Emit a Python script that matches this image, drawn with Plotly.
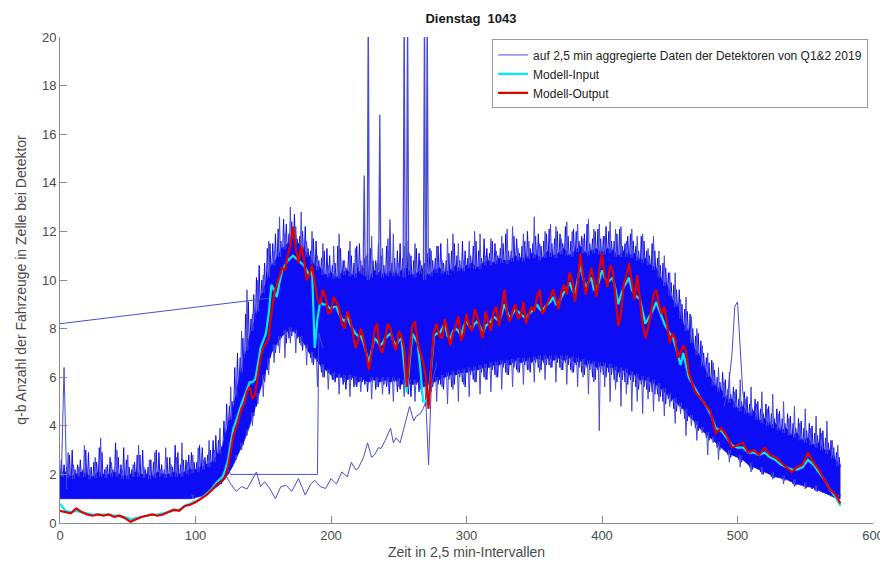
import plotly.graph_objects as go

# ---------------- data ----------------
title_text = "Dienstag  1043"
legend_names = ["auf 2,5 min aggregierte Daten der Detektoren von Q1&2 2019",
                "Modell-Input", "Modell-Output"]
x_ticks = [0, 100, 200, 300, 400, 500, 600]
y_ticks = [0, 2, 4, 6, 8, 10, 12, 14, 16, 18, 20]

# time grids (2.5-min intervals)
t_grid = list(range(0, 580, 4))          # 0 .. 576
t_grid_a = list(range(1, 577, 4))        # 1 .. 573
t_grid_b = list(range(2, 578, 4))        # 2 .. 574
t_grid_c = list(range(3, 579, 4))        # 3 .. 575
t_mid = list(range(122, 474, 4))         # 122 .. 470 (extra model samples)

# dense detector band: upper / lower envelope
band_upper = [2.0, 2.1, 1.9, 2.0, 2.1, 2.0, 1.9, 2.1, 2.0, 2.0,
              2.1, 2.0, 1.9, 2.0, 2.1, 2.0, 2.0, 1.9, 2.1, 2.0,
              2.0, 2.1, 2.0, 2.1, 2.2, 2.2, 2.3, 2.4, 2.5, 2.8,
              3.2, 4.0, 4.8, 5.9, 6.8, 7.7, 8.4, 9.3, 9.9, 10.6,
              10.9, 11.3, 11.5, 11.7, 11.5, 11.2, 11.0, 10.6, 10.5, 10.2,
              10.3, 10.1, 10.3, 10.4, 10.2, 10.3, 10.5, 10.1, 10.4, 10.3,
              10.2, 10.4, 10.2, 10.4, 10.5, 10.2, 10.3, 10.5, 10.2, 10.4,
              10.5, 10.3, 10.4, 10.6, 10.4, 10.6, 10.7, 10.5, 10.7, 10.8,
              10.7, 10.9, 10.8, 10.8, 11.0, 10.9, 10.9, 11.1, 11.0, 10.9,
              11.2, 11.0, 11.1, 11.3, 11.0, 11.2, 11.4, 11.1, 11.2, 11.3,
              11.1, 11.3, 11.2, 11.0, 11.2, 11.0, 11.1, 10.8, 10.9, 10.6,
              10.5, 10.0, 9.8, 9.2, 8.9, 8.2, 7.9, 7.2, 6.9, 6.3,
              6.0, 5.6, 5.5, 5.1, 5.1, 4.7, 4.8, 4.5, 4.6, 4.2,
              4.3, 4.0, 4.1, 3.8, 3.9, 3.6, 3.7, 3.4, 3.5, 3.2,
              3.3, 3.0, 3.0, 2.6, 2.4]
band_lower = [1.0, 1.0, 1.0, 1.0, 1.0, 1.0, 1.0, 1.0, 1.0, 1.0,
              1.0, 1.0, 1.0, 1.0, 1.0, 1.0, 1.0, 1.0, 1.0, 1.0,
              1.0, 1.0, 1.0, 1.0, 1.0, 1.05, 1.1, 1.2, 1.35, 1.5,
              1.7, 2.0, 2.4, 2.9, 3.4, 4.0, 4.8, 5.6, 6.3, 7.0,
              7.4, 7.7, 7.9, 7.9, 7.7, 7.4, 7.0, 6.8, 6.5, 6.3,
              6.1, 6.0, 6.0, 5.9, 6.0, 5.8, 5.9, 5.8, 5.9, 5.8,
              5.9, 5.8, 5.9, 5.7, 5.8, 5.7, 5.8, 5.6, 5.7, 5.8,
              5.9, 6.0, 6.1, 6.1, 6.2, 6.2, 6.3, 6.3, 6.4, 6.4,
              6.5, 6.5, 6.6, 6.5, 6.7, 6.6, 6.7, 6.6, 6.8, 6.7,
              6.8, 6.7, 6.8, 6.7, 6.8, 6.6, 6.7, 6.5, 6.6, 6.4,
              6.5, 6.4, 6.4, 6.2, 6.3, 6.1, 6.1, 5.9, 5.9, 5.8,
              5.7, 5.5, 5.3, 5.1, 4.9, 4.7, 4.4, 4.2, 3.9, 3.7,
              3.5, 3.3, 3.1, 2.9, 2.8, 2.7, 2.6, 2.4, 2.3, 2.2,
              2.1, 2.0, 1.9, 1.85, 1.8, 1.7, 1.6, 1.55, 1.5, 1.45,
              1.35, 1.25, 1.15, 1.05, 1.0]

# peak values of individual detector readings fraying the band edges
edge_upper = [2.6, 2.3, 3.0, 2.4, 2.2, 2.9, 2.5, 3.1, 2.2, 2.7,
              3.3, 2.4, 2.6, 2.2, 2.8, 3.0, 2.3, 2.5, 2.9, 2.2,
              2.7, 3.2, 2.4, 2.6, 2.9, 2.5, 3.1, 2.8, 3.4,
              3.4, 4.2, 4.8, 6.4, 6.8, 8.6, 8.4, 10.1, 10.0, 11.3,
              11.5, 12.1, 12.5, 11.9, 12.7, 11.8, 12.2, 11.2, 11.6, 10.9,
              11.3, 10.6, 11.4, 10.8, 11.2, 10.7, 11.5, 10.9, 11.3, 10.8,
              11.0, 11.4, 10.7, 11.2, 10.9, 11.6, 10.8, 11.1, 10.7, 11.3,
              10.9, 11.5, 10.8, 11.2, 11.0, 11.6, 10.9, 11.4, 11.2, 11.7,
              11.1, 11.5, 11.3, 11.9, 11.2, 11.7, 11.4, 12.0, 11.5, 11.9,
              11.6, 12.1, 11.7, 11.9, 12.2, 11.6, 12.0, 11.8, 12.3, 11.7,
              12.1, 11.8, 12.0, 11.6, 12.1, 11.5, 11.9, 11.4, 11.8, 11.2,
              11.5, 10.9, 10.7, 10.3, 9.8, 9.6, 8.8, 8.6, 7.7, 7.5,
              6.8, 6.7, 6.0, 6.2, 5.5, 5.6, 5.1, 5.4, 4.9, 5.1,
              4.7, 4.9, 4.5, 4.7, 4.3, 4.5, 4.1, 4.3, 3.9, 4.1,
              3.7, 3.9, 3.5, 3.4, 2.9]
edge_lower = [1.0, 1.0, 1.0, 1.0, 1.0, 1.0, 1.0, 1.0, 1.0, 1.0,
              1.0, 1.0, 1.0, 1.0, 1.0, 1.0, 1.0, 1.0, 1.0, 1.0,
              1.0, 1.0, 1.0, 1.0, 1.0,
              1.1, 1.15, 1.3, 1.4, 1.7, 1.8, 2.4, 2.6, 3.3, 3.6,
              4.5, 4.8, 5.9, 6.3, 7.2, 7.3, 7.8, 7.6, 8.0, 7.4,
              7.5, 6.8, 6.9, 6.2, 6.5, 5.9, 6.3, 5.7, 6.0, 5.6,
              6.1, 5.7, 5.9, 5.5, 6.0, 5.6, 5.9, 5.4, 5.8, 5.3,
              5.7, 5.4, 5.6, 5.5, 5.9, 5.7, 6.0, 5.6, 6.1, 5.8,
              6.2, 5.9, 6.3, 6.0, 6.4, 6.1, 6.5, 6.2, 6.5, 6.3,
              6.6, 6.3, 6.7, 6.4, 6.6, 6.5, 6.7, 6.4, 6.6, 6.3,
              6.5, 6.2, 6.4, 6.0, 6.3, 6.1, 6.2, 5.9, 6.0, 5.8,
              5.9, 5.6, 5.7, 5.5, 5.4, 5.3, 5.0, 5.1, 4.7, 4.8,
              4.3, 4.4, 3.9, 4.0, 3.5, 3.6, 3.1, 3.2, 2.8, 2.9,
              2.6, 2.6, 2.3, 2.4, 2.1, 2.2, 1.9, 2.0, 1.8, 1.8,
              1.6, 1.6, 1.5, 1.5, 1.35, 1.3, 1.2, 1.1, 1.0]
edge_upper2 = [2.4, 2.8, 2.2, 2.6, 3.0, 2.3, 2.5, 2.9, 2.4, 2.2,
               2.7, 3.1, 2.3, 2.5, 2.8, 2.2, 2.6, 3.0, 2.4, 2.7,
               2.3, 2.9, 2.6, 2.8, 2.5, 3.2, 2.7, 3.0, 3.6,
               3.0, 4.9, 5.0, 7.0, 7.6, 9.1, 9.4, 10.6, 10.7, 11.5,
               11.9, 11.6, 12.3, 12.4, 11.7, 12.0, 11.3, 11.7, 10.8, 11.2,
               11.0, 10.7, 11.3, 10.5, 11.0, 11.4, 10.6, 11.1, 10.8, 11.5,
               10.6, 11.2, 10.9, 11.5, 10.6, 11.0, 11.3, 10.6, 11.1, 10.8,
               11.4, 10.7, 11.1, 11.5, 10.8, 11.2, 11.0, 11.6, 10.9, 11.3,
               11.6, 11.0, 11.5, 11.2, 11.8, 11.1, 11.6, 11.3, 11.8, 11.4,
               11.9, 11.5, 12.0, 11.5, 11.8, 12.1, 11.6, 11.9, 11.5, 12.0,
               11.7, 12.2, 11.6, 11.9, 11.4, 11.8, 11.6, 11.2, 11.6, 11.0,
               11.2, 10.6, 10.5, 9.9, 9.6, 9.0, 8.7, 8.0, 7.8, 7.0,
               6.6, 6.3, 5.8, 5.9, 5.3, 5.5, 5.0, 5.2, 4.7, 5.0,
               4.5, 4.8, 4.3, 4.6, 4.1, 4.4, 3.9, 4.2, 3.8, 4.0,
               3.6, 3.8, 3.3, 3.1, 2.7]
edge_lower2 = [1.0, 1.0, 1.0, 1.0, 1.0, 1.0, 1.0, 1.0, 1.0, 1.0,
               1.0, 1.0, 1.0, 1.0, 1.0, 1.0, 1.0, 1.0, 1.0, 1.0,
               1.0, 1.0, 1.0, 1.0, 1.0,
               1.1, 1.25, 1.35, 1.5, 1.6, 2.1, 2.3, 3.0, 3.2, 4.2,
               4.4, 5.5, 5.8, 6.8, 7.0, 7.6, 7.4, 7.7, 7.6, 7.1,
               7.2, 6.5, 6.6, 6.0, 6.2, 5.8, 6.1, 5.5, 5.9, 5.6,
               5.8, 5.4, 5.9, 5.6, 5.7, 5.3, 5.8, 5.5, 5.6, 5.2,
               5.7, 5.3, 5.5, 5.6, 5.7, 5.5, 5.9, 5.7, 6.0, 5.6,
               6.1, 5.8, 6.2, 5.9, 6.3, 6.0, 6.4, 6.1, 6.4, 6.2,
               6.5, 6.2, 6.6, 6.3, 6.5, 6.4, 6.6, 6.3, 6.5, 6.2,
               6.4, 6.1, 6.3, 5.9, 6.2, 6.0, 6.1, 5.8, 5.9, 5.7,
               5.8, 5.5, 5.6, 5.4, 5.3, 5.2, 4.9, 5.0, 4.6, 4.7,
               4.2, 4.3, 3.8, 3.9, 3.4, 3.5, 3.0, 3.1, 2.7, 2.8,
               2.5, 2.5, 2.2, 2.3, 2.0, 2.1, 1.85, 1.9, 1.75, 1.7,
               1.55, 1.55, 1.45, 1.4, 1.3, 1.25, 1.15, 1.05, 1.0]

# single detector readings sticking far out of the band
spikes_upper = [2.1, 2.9, 2.4, 2.3, 3.2, 2.2, 2.7, 3.5, 2.3, 2.5,
                3.0, 2.2, 2.8, 2.4, 3.2, 2.3, 2.6, 2.9, 2.2, 3.1,
                2.4, 2.7, 3.3, 2.5, 2.8, 3.1, 2.6, 3.4, 3.0,
                3.9, 3.6, 5.6, 5.8, 7.9, 9.6, 8.6, 10.0, 10.2, 11.6,
                11.2, 12.6, 11.9, 13.0, 12.2, 12.8, 11.6, 12.0, 11.0, 11.5,
                10.6, 11.4, 11.9, 10.8, 11.6, 11.3, 10.8, 11.0, 11.8, 10.7,
                11.3, 11.7, 11.9, 10.7, 11.4, 11.1, 11.5, 10.8, 11.8, 11.2,
                11.4, 10.8, 11.7, 11.9, 11.5, 10.8, 11.6, 12.0, 11.9, 11.0,
                11.7, 11.2, 11.8, 12.1, 12.2, 11.3, 11.9, 11.6, 12.6, 11.5,
                12.0, 12.3, 12.2, 11.7, 12.4, 12.0, 12.3, 11.7, 12.5, 12.1,
                12.3, 11.8, 12.4, 12.1, 12.2, 11.6, 12.1, 11.8, 11.9, 11.3,
                11.8, 11.2, 11.0, 10.3, 10.3, 9.2, 9.3, 8.5, 8.0, 7.3,
                7.0, 6.6, 6.4, 5.8, 6.2, 5.4, 5.9, 5.1, 5.6, 4.9,
                5.4, 4.7, 5.3, 4.5, 5.0, 4.3, 4.8, 4.1, 4.7, 3.9,
                4.4, 3.7, 4.2, 3.4, 3.2]
spikes_lower = [1.0, 1.0, 1.0, 1.0, 1.0, 1.0, 1.0, 1.0, 1.0, 1.0,
                1.0, 1.0, 1.0, 1.0, 1.0, 1.0, 1.0, 1.0, 1.0, 1.0,
                1.0, 1.0, 1.0, 1.0, 1.0,
                1.1, 1.2, 1.3, 1.4, 1.6, 1.9, 2.2, 2.6, 3.0, 3.6,
                4.0, 4.9, 5.2, 6.1, 6.6, 7.0, 6.8, 7.4, 7.0, 7.3,
                6.5, 6.6, 5.6, 6.0, 5.5, 5.9, 5.3, 5.8, 5.2, 5.7,
                5.4, 5.9, 5.1, 5.6, 5.3, 5.8, 5.0, 5.6, 5.2, 5.7,
                5.0, 5.5, 4.8, 5.4, 5.0, 5.6, 4.9, 5.5, 5.0, 5.7,
                5.2, 5.8, 5.3, 5.9, 5.4, 6.0, 5.5, 6.1, 5.6, 6.2,
                5.7, 6.3, 5.8, 6.2, 5.9, 6.4, 5.8, 6.3, 5.7, 6.2,
                5.6, 6.0, 5.3, 5.8, 3.8, 5.6, 5.0, 5.5, 4.8, 5.3,
                4.6, 5.0, 4.5, 5.1, 4.6, 5.0, 4.4, 4.8, 4.1, 4.5,
                3.6, 4.0, 3.4, 3.7, 2.8, 3.3, 2.6, 3.0, 2.5, 2.8,
                2.3, 2.6, 2.1, 2.4, 2.0, 2.2, 1.8, 2.0, 1.6, 1.9,
                1.5, 1.8, 1.4, 1.6, 1.3, 1.5, 1.2, 1.3, 1.0]

# irregular detector series
line_jump_t = [0, 154]
line_jump_v = [8.2, 9.25]
early_spike_t = [1, 3, 5]
early_spike_v = [1.9, 6.4, 1.4]
step_line_t = [122, 126, 190, 191, 194]
step_line_v = [2.4, 2.0, 2.0, 7.8, 7.2]
low_line_t = [122, 126, 130, 134, 138, 142, 145, 148, 151, 155,
              159, 163, 167, 171, 176, 181, 185, 188, 192, 196,
              200, 204, 208, 212, 215, 218, 220, 224, 227, 230,
              232, 235, 237, 240, 244, 246, 248, 251, 254, 256,
              258, 261, 263, 266, 268, 270, 272, 274, 278]
low_line_v = [2.0, 1.6, 1.3, 1.5, 1.4, 1.8, 2.1, 1.5, 1.7, 1.4,
              1.0, 1.5, 1.55, 1.3, 1.83, 1.15, 1.6, 1.76, 1.5, 1.42,
              1.83, 1.6, 2.1, 1.9, 2.5, 2.2, 2.24, 2.7, 3.3, 2.7,
              2.8, 3.1, 3.07, 3.4, 3.9, 3.3, 3.5, 3.3, 3.9, 4.4,
              4.8, 4.2, 4.4, 4.5, 4.7, 5.0, 2.4, 5.6, 6.6]
tall_spike_t = [224.5, 227.5, 236, 243.5, 254, 256.5, 269, 271]
tall_spike_peak = [14.3, 21, 16.8, 12.5, 21, 21, 21, 21]
tall_spike_base = [10.2, 10.0, 10.4, 10.3, 10.1, 10.5, 10.0, 10.3]
bump_t = [490, 493, 496, 498, 500, 502, 504, 507]
bump_v = [4.8, 5.4, 7.0, 8.9, 9.1, 7.4, 5.3, 4.6]

model_output = [0.5, 0.45, 0.4, 0.6, 0.45, 0.35, 0.3, 0.35, 0.3, 0.35,
                0.25, 0.3, 0.2, 0.05, 0.15, 0.25, 0.3, 0.35, 0.3, 0.35,
                0.45, 0.55, 0.5, 0.7, 0.75, 0.85, 1.0, 1.15, 1.35, 1.6,
                1.75, 2.3, 3.6, 4.3, 4.9, 5.6, 5.3, 6.8, 7.4, 8.6,
                9.8, 10.5, 11.0, 12.2, 10.7, 10.9, 10.2, 9.9, 9.0, 9.3,
                8.7, 9.1, 8.2, 8.7, 7.9, 7.5, 7.6, 6.3, 7.9, 7.2,
                7.6, 8.0, 7.1, 7.7, 5.6, 8.1, 7.4, 6.6, 4.7, 7.9,
                7.7, 8.4, 7.3, 8.1, 7.5, 8.6, 7.9, 8.5, 7.6, 8.3,
                8.7, 8.1, 9.6, 8.3, 9.0, 8.5, 8.2, 8.9, 9.3, 8.6,
                9.1, 9.6, 8.8, 9.8, 10.3, 9.1, 11.1, 9.4, 10.5, 9.3,
                11.1, 9.7, 10.4, 8.1, 9.8, 10.7, 9.2, 9.3, 7.6, 8.6,
                9.6, 8.6, 8.2, 7.8, 6.8, 7.3, 6.2, 5.5, 5.2, 4.9,
                4.6, 3.7, 3.9, 3.6, 3.1, 3.2, 3.3, 2.9, 3.0, 2.8,
                3.1, 2.8, 2.7, 2.5, 2.3, 2.1, 2.3, 2.4, 2.9, 2.5,
                2.2, 1.8, 1.4, 1.2, 0.8]
model_output_mid = [1.9, 3.0, 3.9, 4.7, 5.4, 5.1, 6.0, 7.2, 7.6, 9.4,
                    10.2, 10.4, 11.4, 11.3, 11.4, 10.0, 10.6, 9.2, 9.6, 8.6,
                    9.3, 8.8, 8.0, 8.4, 7.2, 8.0, 6.9, 7.0, 8.2, 7.0,
                    8.2, 7.4, 7.9, 7.2, 7.0, 8.3, 7.0, 6.0, 6.5, 8.2,
                    7.6, 7.9, 7.8, 8.5, 7.8, 8.1, 8.8, 8.0, 8.7, 7.9,
                    8.9, 8.8, 8.6, 8.7, 8.4, 9.1, 8.6, 8.7, 9.6, 8.8,
                    9.3, 9.2, 9.5, 9.4, 10.0, 9.8, 10.2, 9.9, 10.0, 10.4,
                    10.2, 10.6, 9.3, 8.6, 10.2, 9.9, 10.2, 8.2, 8.0, 9.4,
                    9.0, 8.9, 7.4, 7.6, 7.0, 7.1, 5.8, 5.3]
model_input = [0.8, 0.5, 0.45, 0.5, 0.45, 0.4, 0.35, 0.35, 0.35, 0.35,
               0.3, 0.3, 0.25, 0.15, 0.2, 0.25, 0.3, 0.35, 0.35, 0.4,
               0.45, 0.5, 0.55, 0.7, 0.8, 0.9, 1.0, 1.2, 1.4, 1.7,
               1.9, 2.6, 3.9, 4.6, 5.2, 5.8, 5.9, 7.2, 7.8, 9.8,
               9.3, 10.4, 10.8, 11.0, 10.8, 10.6, 10.2, 7.2, 9.1, 9.0,
               8.8, 8.9, 8.4, 8.5, 8.0, 7.7, 7.4, 6.6, 7.6, 7.3,
               7.6, 7.8, 7.3, 7.6, 5.4, 7.8, 7.4, 5.0, 5.2, 7.7,
               7.8, 8.2, 7.6, 8.0, 7.7, 8.3, 8.0, 8.3, 7.8, 8.2,
               8.5, 8.3, 9.0, 8.4, 8.8, 8.6, 8.4, 8.7, 9.0, 8.7,
               9.0, 9.3, 9.0, 9.5, 9.9, 9.4, 10.6, 9.7, 10.1, 9.6,
               10.4, 9.9, 10.1, 9.0, 9.7, 10.1, 9.4, 9.2, 8.2, 8.6,
               9.1, 8.5, 8.0, 7.7, 7.0, 7.0, 6.0, 5.6, 5.2, 4.9,
               4.5, 3.9, 3.8, 3.5, 3.2, 3.1, 3.1, 2.9, 2.9, 2.8,
               2.9, 2.7, 2.6, 2.4, 2.3, 2.2, 2.2, 2.3, 2.6, 2.4,
               2.1, 1.8, 1.4, 1.1, 0.7]
model_input_mid = [2.2, 3.3, 4.2, 4.9, 5.5, 5.8, 6.5, 7.5, 8.6, 9.6,
                   9.9, 10.6, 10.9, 10.9, 10.7, 10.4, 10.4, 8.4, 9.0, 8.9,
                   8.9, 8.6, 8.3, 8.2, 7.8, 7.7, 7.0, 7.1, 7.5, 7.4,
                   7.7, 7.5, 7.5, 6.5, 6.6, 7.6, 6.3, 5.0, 6.4, 7.8,
                   8.0, 7.7, 7.9, 7.9, 8.1, 8.1, 8.2, 8.1, 8.1, 8.3,
                   8.4, 8.6, 8.7, 8.6, 8.7, 8.5, 8.6, 8.8, 8.8, 8.9,
                   9.1, 9.0, 9.3, 9.6, 9.6, 10.0, 10.1, 9.9, 9.6, 10.0,
                   10.1, 10.0, 9.6, 9.4, 9.9, 9.6, 9.3, 8.7, 8.4, 8.8,
                   8.8, 8.2, 7.8, 7.3, 6.5, 6.5, 5.8, 5.4]

for name, arr, ref in [("band_upper", band_upper, t_grid), ("band_lower", band_lower, t_grid),
                       ("edge_upper", edge_upper, t_grid_a), ("edge_lower", edge_lower, t_grid_a),
                       ("edge_upper2", edge_upper2, t_grid_c), ("edge_lower2", edge_lower2, t_grid_c),
                       ("spikes_upper", spikes_upper, t_grid_b), ("spikes_lower", spikes_lower, t_grid_b),
                       ("model_output", model_output, t_grid), ("model_input", model_input, t_grid),
                       ("model_output_mid", model_output_mid, t_mid),
                       ("model_input_mid", model_input_mid, t_mid),
                       ("low_line", low_line_v, low_line_t)]:
    if len(arr) != len(ref):
        print("LENGTH MISMATCH", name, len(arr), len(ref))

# ---------------- styles ----------------
CORE = "rgb(12,12,245)"
THIN = "rgb(75,75,210)"
AXIS = "#8a8a8a"
TXT = "#4a4a4a"
FONT = "Liberation Sans, Arial, sans-serif"
HALF = 0.7   # half width of a single reading's spike, in intervals


def envelope_at(env, t):
    i = min(int(t // 4), len(env) - 2)
    f = (t - t_grid[i]) / 4.0
    return env[i] * (1 - f) + env[i + 1] * f


def spike_path(ts, peaks, env, upward):
    xs, ys = [], []
    for t, p in zip(ts, peaks):
        b = envelope_at(env, t)
        if (upward and p <= b) or ((not upward) and p >= b):
            continue
        b = b - 0.15 if upward else b + 0.15
        xs += [t - HALF, t, t + HALF, None]
        ys += [b, p, b, None]
    return xs, ys


def merged(t1, v1, t2, v2):
    pts = sorted(list(zip(t1, v1)) + list(zip(t2, v2)))
    return [p[0] for p in pts], [p[1] for p in pts]


fig = go.Figure()

# dense band
fig.add_trace(go.Scatter(x=t_grid, y=band_lower, mode="lines",
                         line=dict(color=CORE, width=0.8), showlegend=False, hoverinfo="skip"))
fig.add_trace(go.Scatter(x=t_grid, y=band_upper, mode="lines", fill="tonexty",
                         fillcolor=CORE, line=dict(color=CORE, width=0.8),
                         showlegend=False, hoverinfo="skip"))
# frayed edges: single readings as hair-line spikes
for tg, pk, env, up in ((t_grid_a, edge_upper, band_upper, True),
                        (t_grid_c, edge_upper2, band_upper, True),
                        (t_grid_a, edge_lower, band_lower, False),
                        (t_grid_c, edge_lower2, band_lower, False)):
    sx, sy = spike_path(tg, pk, env, up)
    fig.add_trace(go.Scatter(x=sx, y=sy, mode="lines", line=dict(color=CORE, width=1),
                             showlegend=False, connectgaps=False, hoverinfo="skip"))
for pk, env, up, show in ((spikes_upper, band_upper, True, True),
                          (spikes_lower, band_lower, False, False)):
    sx, sy = spike_path(t_grid_b, pk, env, up)
    fig.add_trace(go.Scatter(x=sx, y=sy, mode="lines", line=dict(color=THIN, width=1),
                             name=legend_names[0], showlegend=show, connectgaps=False))

for tx, ty in [(line_jump_t, line_jump_v), (early_spike_t, early_spike_v),
               (step_line_t, step_line_v), (low_line_t, low_line_v), (bump_t, bump_v)]:
    fig.add_trace(go.Scatter(x=tx, y=ty, mode="lines",
                             line=dict(color=THIN, width=1), showlegend=False))
sx, sy = [], []
for t, p, b in zip(tall_spike_t, tall_spike_peak, tall_spike_base):
    sx += [t - 0.8, t, t + 0.8, None]
    sy += [b, p, b, None]
fig.add_trace(go.Scatter(x=sx, y=sy, mode="lines", line=dict(color=THIN, width=1.3),
                         showlegend=False, connectgaps=False))

# model lines
in_x, in_y = merged(t_grid, model_input, t_mid, model_input_mid)
out_x, out_y = merged(t_grid, model_output, t_mid, model_output_mid)
fig.add_trace(go.Scatter(x=in_x, y=in_y, mode="lines", name=legend_names[1],
                         line=dict(color="rgb(0,235,245)", width=2.2)))
fig.add_trace(go.Scatter(x=out_x, y=out_y, mode="lines", name=legend_names[2],
                         line=dict(color="rgb(225,0,0)", width=2.2)))

fig.update_layout(
    width=888, height=561,
    margin=dict(l=50, r=12, t=29, b=43),
    paper_bgcolor="white", plot_bgcolor="white",
    font=dict(family=FONT, size=13, color=TXT),
    title=dict(text="<b>" + title_text + "</b>", x=0.5214, xanchor="center",
               y=1 - 10 / 561, yanchor="middle", font=dict(size=13, color="#1a1a1a")),
    legend=dict(x=0.5315, y=0.995, xanchor="left", yanchor="top", traceorder="normal",
                bgcolor="white", bordercolor="#999999", borderwidth=1,
                font=dict(size=12, color="#222222"), tracegroupgap=0),
    showlegend=True,
)
fig.update_xaxes(range=[0, 600], tickvals=x_ticks, showgrid=False, zeroline=False,
                 showline=True, linecolor=AXIS, linewidth=1, ticks="inside", ticklen=7,
                 tickcolor=AXIS, tickfont=dict(size=13, color=TXT),
                 title=dict(text="Zeit in 2,5 min-Intervallen", font=dict(size=14, color=TXT), standoff=5))
fig.update_yaxes(range=[0, 20], tickvals=y_ticks, showgrid=False, zeroline=False,
                 showline=True, linecolor=AXIS, linewidth=1, ticks="inside", ticklen=7,
                 tickcolor=AXIS, tickfont=dict(size=13, color=TXT),
                 title=dict(text="q-b Anzahl der Fahrzeuge in Zelle bei Detektor",
                            font=dict(size=14, color=TXT), standoff=12))

fig.write_html("out.html")
